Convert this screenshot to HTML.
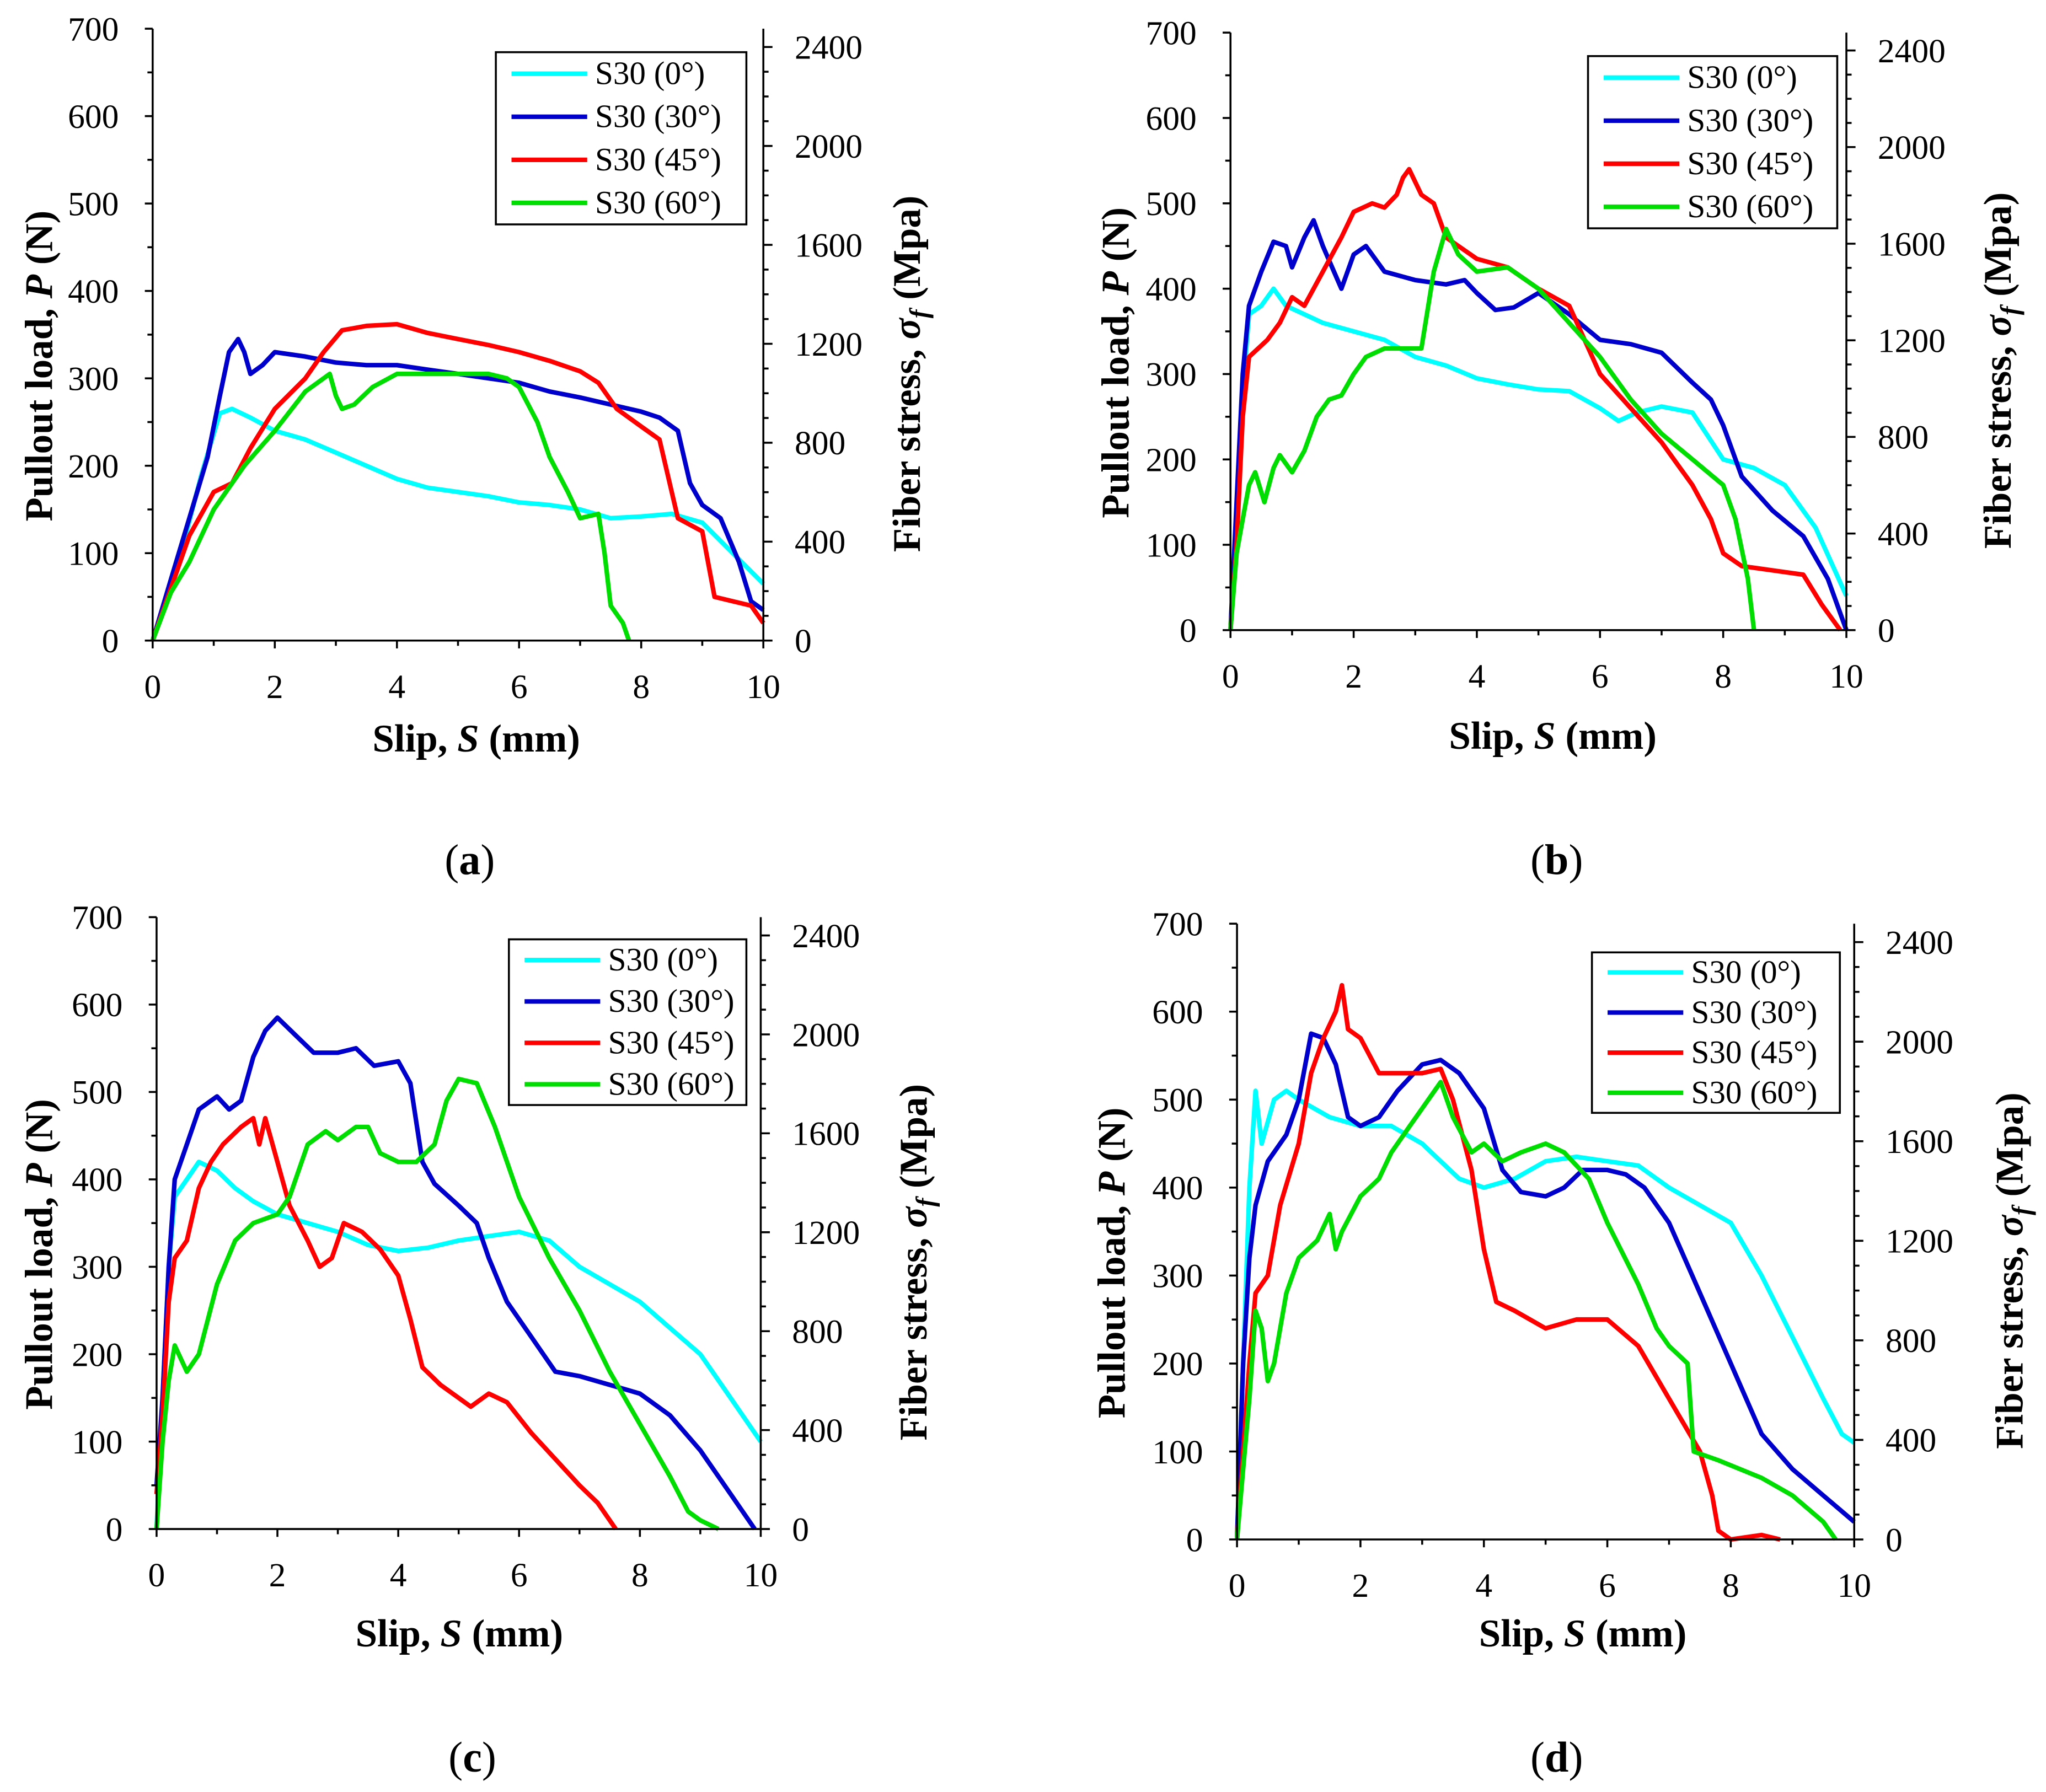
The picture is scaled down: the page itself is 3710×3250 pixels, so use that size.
<!DOCTYPE html>
<html><head><meta charset="utf-8"><style>
html,body{margin:0;padding:0;background:#fff;}
svg{display:block;}
text{font-family:"Liberation Serif",serif;fill:#000;}
.tk{font-size:26px;}
.ti{font-size:30px;font-weight:bold;}
.lg{font-size:25px;}
.cap{font-size:33px;}
</style></head><body>
<svg id="fig" width="3710" height="3250" viewBox="0 0 3710 3250" xmlns="http://www.w3.org/2000/svg">
<g id="root" transform="scale(2.3661)"></g>
</svg>
<script>
const seriesNames=["S30 (0°)","S30 (30°)","S30 (45°)","S30 (60°)"];
const colors=["#00ffff","#0000cc","#ff0000","#00dd00"];
const xTicks=[0,2,4,6,8,10];
const yTicks=[0,100,200,300,400,500,600,700];
const y2Ticks=[0,400,800,1200,1600,2000,2400];
const panelLabels=["a","b","c","d"];
const a0=[[0,0],[0.5,110],[0.8,190],[1.1,260],[1.3,265],[1.6,255],[2,240],[2.5,230],[3,215],[3.5,200],[4,185],[4.5,175],[5,170],[5.5,165],[6,158],[6.5,155],[7,150],[7.5,140],[8,142],[8.5,145],[9,135],[9.5,100],[10,65]];
const a30=[[0,0],[0.3,70],[0.6,140],[0.9,210],[1.1,280],[1.25,330],[1.4,345],[1.5,330],[1.6,305],[1.8,315],[2,330],[2.5,325],[3,318],[3.5,315],[4,315],[4.5,310],[5,305],[5.5,300],[6,295],[6.5,285],[7,278],[7.5,270],[8,262],[8.3,255],[8.6,240],[8.8,180],[9,155],[9.3,140],[9.6,90],[9.8,45],[10,35]];
const a45=[[0,0],[0.3,60],[0.6,120],[1,170],[1.3,180],[1.6,220],[2,265],[2.5,300],[2.8,330],[3.1,355],[3.5,360],[4,362],[4.5,352],[5,345],[5.5,338],[6,330],[6.5,320],[7,308],[7.3,295],[7.6,265],[8,245],[8.3,230],[8.6,140],[9,125],[9.2,50],[9.5,45],[9.8,40],[10,20]];
const a60=[[0,0],[0.3,55],[0.6,90],[1,150],[1.5,200],[2,240],[2.5,285],[2.9,305],[3,280],[3.1,265],[3.3,270],[3.6,290],[4,305],[4.5,305],[5,305],[5.5,305],[5.8,300],[6,290],[6.3,250],[6.5,210],[6.8,170],[7,140],[7.3,145],[7.4,100],[7.5,40],[7.7,20],[7.8,0]];
const b0=[[0,0],[0.1,120],[0.2,280],[0.3,370],[0.5,380],[0.7,400],[0.9,380],[1.2,370],[1.5,360],[2,350],[2.5,340],[3,320],[3.5,310],[4,295],[4.5,288],[5,282],[5.5,280],[6,260],[6.3,245],[6.6,255],[7,262],[7.5,255],[8,200],[8.5,190],[9,170],[9.5,120],[10,40]];
const b30=[[0,0],[0.1,150],[0.2,300],[0.3,380],[0.5,420],[0.7,455],[0.9,450],[1.0,425],[1.2,460],[1.35,480],[1.5,450],[1.8,400],[2,440],[2.2,450],[2.5,420],[3,410],[3.5,405],[3.8,410],[4,395],[4.3,375],[4.6,378],[5,395],[5.5,370],[6,340],[6.5,335],[7,325],[7.5,290],[7.8,270],[8,240],[8.3,180],[8.8,140],[9.3,110],[9.7,60],[10,0]];
const b45=[[0,0],[0.1,100],[0.2,250],[0.3,320],[0.6,340],[0.8,360],[1,390],[1.2,380],[1.5,420],[1.8,460],[2,490],[2.3,500],[2.5,495],[2.7,510],[2.8,530],[2.9,540],[3.1,510],[3.3,500],[3.5,460],[4,435],[4.5,425],[5,400],[5.5,380],[6,300],[6.5,260],[7,220],[7.5,170],[7.8,130],[8,90],[8.3,75],[8.8,70],[9.3,65],[9.6,30],[9.9,0]];
const b60=[[0,0],[0.1,90],[0.2,130],[0.3,170],[0.4,185],[0.55,150],[0.7,190],[0.8,205],[1,185],[1.2,210],[1.4,250],[1.6,270],[1.8,275],[2,300],[2.2,320],[2.5,330],[2.8,330],[3.1,330],[3.3,420],[3.5,470],[3.7,440],[4,420],[4.5,425],[5,400],[5.5,360],[6,320],[6.5,270],[7,230],[7.5,200],[8,170],[8.2,130],[8.4,60],[8.5,0]];
const c0=[[0,0],[0.1,150],[0.2,300],[0.3,380],[0.5,400],[0.7,420],[1,410],[1.3,390],[1.6,375],[2,360],[2.5,350],[3,340],[3.5,325],[4,318],[4.5,322],[5,330],[5.5,335],[6,340],[6.5,330],[7,300],[7.5,280],[8,260],[8.5,230],[9,200],[9.5,150],[10,100]];
const c30=[[0,50],[0.1,150],[0.2,300],[0.3,400],[0.5,440],[0.7,480],[0.9,490],[1,495],[1.2,480],[1.4,490],[1.6,540],[1.8,570],[2,585],[2.3,565],[2.6,545],[3,545],[3.3,550],[3.6,530],[4,535],[4.2,510],[4.4,420],[4.6,395],[5,370],[5.3,350],[5.5,310],[5.8,260],[6.2,220],[6.6,180],[7,175],[7.5,165],[8,155],[8.5,130],[9,90],[9.5,40],[9.9,0]];
const c45=[[0,40],[0.1,130],[0.2,260],[0.3,310],[0.5,330],[0.7,390],[0.9,420],[1.1,440],[1.4,460],[1.6,470],[1.7,440],[1.8,470],[2,420],[2.2,370],[2.5,330],[2.7,300],[2.9,310],[3.1,350],[3.4,340],[3.7,320],[4,290],[4.2,240],[4.4,185],[4.7,165],[5,150],[5.2,140],[5.5,155],[5.8,145],[6.2,110],[6.6,80],[7,50],[7.3,30],[7.6,0]];
const c60=[[0,0],[0.1,100],[0.2,170],[0.3,210],[0.5,180],[0.7,200],[1,280],[1.3,330],[1.6,350],[2,360],[2.2,380],[2.5,440],[2.8,455],[3,445],[3.3,460],[3.5,460],[3.7,430],[4,420],[4.3,420],[4.6,440],[4.8,490],[5,515],[5.3,510],[5.6,460],[6,380],[6.5,310],[7,250],[7.5,180],[8,120],[8.5,60],[8.8,20],[9,10],[9.3,0]];
const d0=[[0,0],[0.1,200],[0.2,400],[0.3,510],[0.4,450],[0.6,500],[0.8,510],[1,500],[1.5,480],[2,470],[2.5,470],[3,450],[3.3,430],[3.6,410],[4,400],[4.5,410],[5,430],[5.5,435],[6,430],[6.5,425],[7,400],[7.5,380],[8,360],[8.5,300],[9,230],[9.5,160],[9.8,120],[10,110]];
const d30=[[0,0],[0.1,200],[0.2,320],[0.3,380],[0.5,430],[0.8,460],[1,500],[1.2,575],[1.4,570],[1.6,540],[1.8,480],[2,470],[2.3,480],[2.6,510],[3,540],[3.3,545],[3.6,530],[4,490],[4.3,420],[4.6,395],[5,390],[5.3,400],[5.6,420],[6,420],[6.3,415],[6.6,400],[7,360],[7.5,280],[8,200],[8.5,120],[9,80],[9.5,50],[10,20]];
const d45=[[0,0],[0.1,100],[0.2,200],[0.3,280],[0.5,300],[0.7,380],[1,450],[1.2,530],[1.4,570],[1.6,600],[1.7,630],[1.8,580],[2,570],[2.3,530],[2.6,530],[3,530],[3.3,535],[3.5,500],[3.8,420],[4,330],[4.2,270],[4.5,260],[5,240],[5.5,250],[6,250],[6.5,220],[7,160],[7.5,100],[7.7,50],[7.8,10],[8,0],[8.5,5],[8.8,0]];
const d60=[[0,0],[0.1,80],[0.2,160],[0.3,260],[0.4,240],[0.5,180],[0.6,200],[0.8,280],[1,320],[1.3,340],[1.5,370],[1.6,330],[1.7,350],[2,390],[2.3,410],[2.5,440],[2.8,470],[3,490],[3.3,520],[3.5,480],[3.8,440],[4,450],[4.3,430],[4.6,440],[5,450],[5.3,440],[5.7,410],[6,360],[6.5,290],[6.8,240],[7,220],[7.3,200],[7.4,100],[7.8,90],[8.5,70],[9,50],[9.5,20],[9.7,0]];
const panelData=[[a0,a30,a45,a60],[b0,b30,b45,b60],[c0,c30,c45,c60],[d0,d30,d45,d60]];

const layouts=[
 {x0:117,x1:585,yt:22,yb:491,lg:[380,40,192,132],lt:30,rt:695,xt:[365,574],cap:[360,670]},
 {x0:943,x1:1415,yt:25,yb:483,lg:[1217,43,191,132],lt:855,rt:1531,xt:[1190,572],cap:[1193,670]},
 {x0:120,x1:583,yt:703,yb:1172,lg:[390,720,182,127],lt:30,rt:700,xt:[352,1260],cap:[362,1358]},
 {x0:948,x1:1421,yt:708,yb:1180,lg:[1220,730,190,123],lt:852,rt:1540,xt:[1213,1260],cap:[1193,1358]}
];
const NS="http://www.w3.org/2000/svg";
const root=document.getElementById('root');
function mk(tag,attrs,parent,txt){const e=document.createElementNS(NS,tag);for(const k in attrs)e.setAttribute(k,attrs[k]);if(txt!==undefined)e.textContent=txt;parent.appendChild(e);return e;}

panelData.forEach((series,pi)=>{
 const L=layouts[pi];
 const g=mk('g',{},root);
 
 
 const sx=v=>L.x0+(L.x1-L.x0)*v/10;
 const sy=v=>L.yb-(L.yb-L.yt)*v/700;
 const pxPerN=(L.yb-L.yt)/700;
 const mpaPerN=2474/700;
 const sy2=v=>L.yb-(v/mpaPerN)*pxPerN;
 series.forEach((pts,si)=>{
  const p=mk('polyline',{points:pts.map(q=>sx(q[0]).toFixed(1)+','+sy(q[1]).toFixed(1)).join(' '),fill:'none',stroke:colors[si],'stroke-width':3.5,'stroke-linejoin':'round'},g);
  
  
 });
 const ax=mk('g',{stroke:'#000','stroke-width':1.5},g);
 
 
 mk('line',{x1:L.x0,y1:L.yt,x2:L.x0,y2:L.yb},ax);
 mk('line',{x1:L.x0,y1:L.yb,x2:L.x1,y2:L.yb},ax);
 mk('line',{x1:L.x1,y1:L.yt,x2:L.x1,y2:L.yb},ax);
 xTicks.forEach(v=>{
  mk('line',{x1:sx(v),y1:L.yb,x2:sx(v),y2:L.yb+6},ax);
  const t=mk('text',{x:sx(v),y:L.yb+44,'text-anchor':'middle',class:'tk',stroke:'none'},g,String(v));
  
  
 });
 for(let v=1;v<10;v+=2)mk('line',{x1:sx(v),y1:L.yb,x2:sx(v),y2:L.yb+4},ax);
 yTicks.forEach(v=>{
  mk('line',{x1:L.x0,y1:sy(v),x2:L.x0-6,y2:sy(v)},ax);
  const t=mk('text',{x:L.x0-26,y:sy(v)+9,'text-anchor':'end',class:'tk'},g,String(v));
  
  
 });
 for(let v=50;v<700;v+=100)mk('line',{x1:L.x0,y1:sy(v),x2:L.x0-4,y2:sy(v)},ax);
 y2Ticks.forEach(v=>{
  mk('line',{x1:L.x1,y1:sy2(v),x2:L.x1+7,y2:sy2(v)},ax);
  const t=mk('text',{x:L.x1+24,y:sy2(v)+9,class:'tk'},g,String(v));
  
  
 });
 for(let v=100;v<2474;v+=100){if(v%400)mk('line',{x1:L.x1,y1:sy2(v),x2:L.x1+4,y2:sy2(v)},ax);}
 const my=(L.yt+L.yb)/2;
 const lt=mk('text',{x:0,y:0,class:'ti','text-anchor':'middle',transform:`translate(${L.lt+10},${my+24}) rotate(-90)`},g);
 
 
 lt.innerHTML='Pullout load, <tspan font-style="italic">P</tspan> (N)';
 const rt=mk('text',{x:0,y:0,class:'ti','text-anchor':'middle',transform:`translate(${L.rt+10},${my+30}) rotate(-90)`},g);
 
 
 rt.innerHTML='Fiber stress, <tspan font-style="italic">σ</tspan><tspan font-style="italic" font-size="20" dy="6">f</tspan><tspan dy="-6"> (Mpa)</tspan>';
 const xt=mk('text',{x:L.xt[0],y:L.xt[1]+2,class:'ti','text-anchor':'middle'},g);
 
 
 xt.innerHTML='Slip, <tspan font-style="italic">S</tspan> (mm)';
 const cp=mk('text',{x:L.cap[0],y:L.cap[1],class:'cap','text-anchor':'middle'},g);
 
 
 cp.innerHTML='(<tspan font-weight="bold">'+panelLabels[pi]+'</tspan>)';
 const [lx,ly,lw,lh]=L.lg;
 const lg=mk('g',{},g);
 
 
 mk('rect',{x:lx,y:ly,width:lw,height:lh,fill:'#fff',stroke:'#000','stroke-width':1.5},lg);
 const rh=lh/4;
 seriesNames.forEach((n,si)=>{
  const yy=ly+rh*(si+0.5);
  const e=mk('g',{},lg);
  
  
  mk('line',{x1:lx+12,y1:yy,x2:lx+70,y2:yy,stroke:colors[si],'stroke-width':3.5},e);
  mk('text',{x:lx+76,y:yy+8,class:'lg'},e,n);
 });
});
</script>
</body></html>
